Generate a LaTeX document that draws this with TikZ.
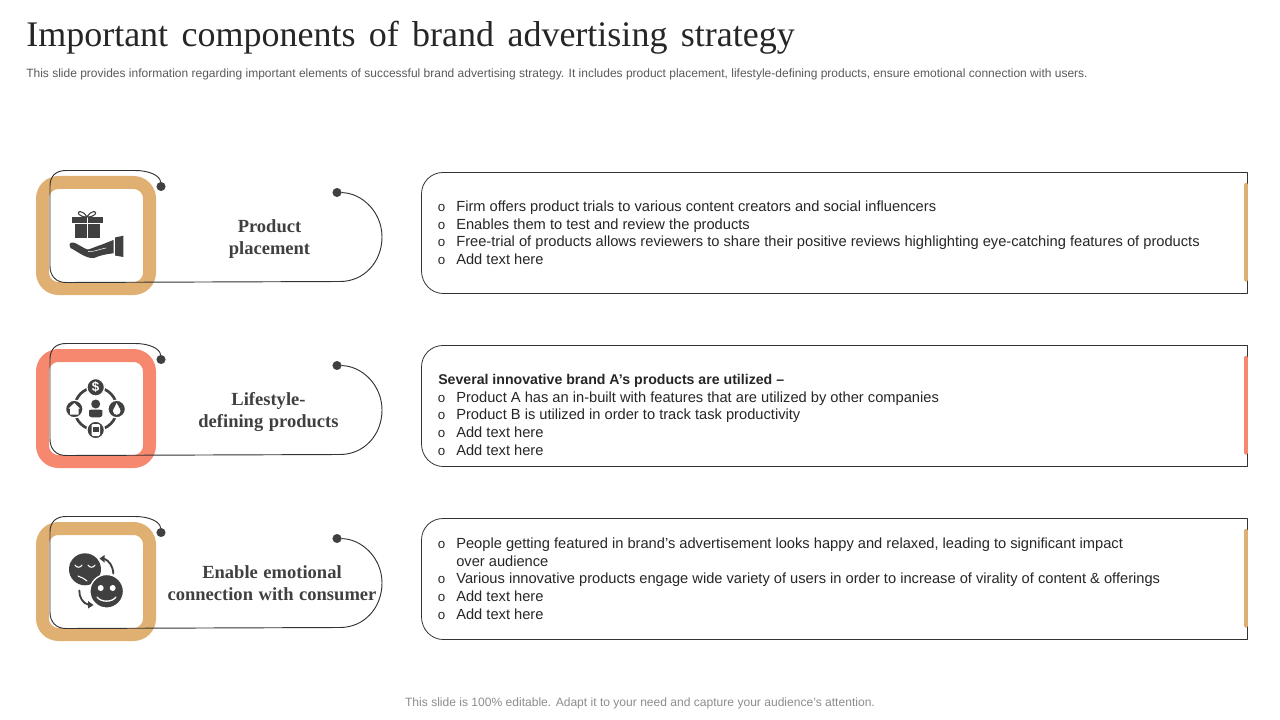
\documentclass[tikz,border=0pt]{standalone}
\usepackage{fontspec}
\setmainfont{Liberation Sans}
\newfontfamily\labelfont[WordSpace=1.2]{Liberation Serif}
\definecolor{tanfill}{HTML}{E0B073}
\definecolor{coralfill}{HTML}{F68870}
\definecolor{inkdark}{HTML}{404040}
\tikzset{
  framebox/.style={line width=9.75pt,rounded corners=12pt},
  dotend/.style={circle,fill=inkdark,inner sep=0pt,minimum size=6.8pt},
  rowlabel/.style={font=\labelfont\bfseries\fontsize{13.9}{16.5}\selectfont,text=inkdark,align=center,inner sep=0pt},
  textline/.style={anchor=base west,inner sep=0pt,text=black!85,font=\fontsize{11}{13}\selectfont},
  icon/.style={fill=inkdark,draw=none}
}
\newcommand{\rowlines}[2]{%
  \foreach \n/\yy/\tt in {#2}{
    \node[textline] (#1\n) at (437.5,\yy) {\makebox[13.9pt][l]{\fontsize{10}{12}\selectfont o}\tt};
  }}
\begin{document}
\begin{tikzpicture}[x=0.75pt,y=-0.75pt,line join=round,line cap=round]
\useasboundingbox (0,0) rectangle (1280,720);
% heading
\node[anchor=base west,inner sep=0pt,text=black!85,font=\labelfont\fontsize{27}{30}\selectfont] (title) at (26,47) {\spaceskip=10pt Important components of brand advertising strategy};
\node[anchor=base west,inner sep=0pt,text=black!65,font=\fontsize{9}{10}\selectfont] (subtitle) at (26,77.5) {This slide provides information regarding important elements of successful brand advertising strategy. It includes product placement, lifestyle-defining products, ensure emotional connection with users.};
\node[inner sep=0pt,text=black!45,font=\fontsize{9.05}{10}\selectfont] (footer) at (640,703) {This slide is 100\% editable. Adapt it to your need and capture your audience’s attention.};
% rows
\foreach \r/\dy/\col in {a/0/tanfill,b/173/coralfill,c/346/tanfill}{
\begin{scope}[shift={(0,\dy)}]
\draw[framebox,draw=\col,fill=white] (42.5,182.5) rectangle (149.5,288.5);
\node[dotend] (in\r) at (161,186.5) {};
\node[dotend] (out\r) at (337,192.5) {};
\draw[black!80,line width=0.7pt] (in\r) .. controls (160,176) and (150,170.5) .. (135,170.5) -- (66,170.5)
  .. controls (56,170.5) and (50,176) .. (50,186) -- (50,266)
  .. controls (50,276) and (56,282.5) .. (66,282.5) -- (340,281.5)
  .. controls (364,281.5) and (382,262) .. (382,237)
  .. controls (382,212) and (362,193) .. (out\r);
\draw[black!80,line width=0.6pt] (1247.5,172.5) -- (1247.5,293.5) -- (443,293.5)
  .. controls (431,293.5) and (421.5,283) .. (421.5,271) -- (421.5,194)
  .. controls (421.5,182) and (431,172.5) .. (443,172.5) -- cycle;
\draw[\col,line width=3.2pt] (1246,185) -- (1246,279.5);
\end{scope}
}
\node[rowlabel] (labela) at (269.5,239) {Product\\placement};
\node[rowlabel] (labelb) at (268.5,412) {Lifestyle-\\defining products};
\node[rowlabel] (labelc) at (272,583) {Enable emotional\\connection with consumer};
% box texts
\rowlines{ta}{1/211.5/Firm offers product trials to various content creators and social influencers,
  2/229/Enables them to test and review the products,
  3/246.5/Free-trial of products allows reviewers to share their positive reviews highlighting eye-catching features of products,
  4/264/Add text here}
\node[textline,font=\bfseries\fontsize{10.6}{13}\selectfont] (headb) at (438,384) {Several innovative brand A’s products are utilized –};
\rowlines{tb}{1/402/Product A has an in-built with features that are utilized by other companies,
  2/419/Product B is utilized in order to track task productivity,
  3/437/Add text here,
  4/455/Add text here}
\rowlines{tc}{1/548/{People getting featured in brand’s advertisement looks happy and relaxed, leading to significant impact},
  3/583/Various innovative products engage wide variety of users in order to increase of virality of content \& offerings,
  4/601/Add text here,
  5/619/Add text here}
\node[textline] (tc2) at (456,566) {over audience};
% gift and hand
\fill[icon] (71.5,217.3) rectangle (102.5,222.7);
\fill[icon] (74.5,224) rectangle (99.5,238.5);
\draw[white,line width=0.4pt] (87,217.3) -- (87,238.5);
\draw[inkdark,line width=0.8pt] (87,217) .. controls (79,217) and (76,212) .. (80,211.5) .. controls (83,211.5) and (85,214) .. (87,217)
  .. controls (89,214) and (91,211.5) .. (94,211.5) .. controls (98,212) and (95,217) .. (87,217) -- cycle;
\fill[icon] (69.5,245) .. controls (70,242) and (73,242) .. (76,243.5) .. controls (81,246) and (85,249) .. (88,249.5)
  .. controls (92,248.5) and (97,246) .. (102,244.5) -- (113.5,240) -- (113.5,253.3)
  .. controls (106,254) and (100,255.5) .. (94,258) .. controls (86,259) and (77,251) .. (70.5,248) -- cycle;
\fill[icon] (115,237.5) -- (123.3,235.7) -- (123.3,257) -- (115,255.5) -- cycle;
\draw[white,line width=0.4pt] (88.5,251.5) .. controls (94,252) and (100,249) .. (106,248);
% round of four symbols
\draw[inkdark,line width=2pt] (95.7,408.7) circle (21.3);
\foreach \s/\sx/\sy in {top/95.7/387.3,left/74.3/409,right/116.7/409,low/95.7/430}{
  \draw[white,line width=1pt,fill=inkdark] (\sx,\sy) circle (8.8);
}
\node[text=white,inner sep=0pt,font=\bfseries\fontsize{10}{10}\selectfont] (dollar) at (95.7,387.3) {\$};
\fill[white] (74.3,403) -- (80,408.5) -- (78.5,408.5) -- (78.5,414.5) -- (70,414.5) -- (70,408.5) -- (68.6,408.5) -- cycle;
\fill[white] (116.7,403) .. controls (117.5,406) and (120.5,408.5) .. (120.5,411) .. controls (120.5,416) and (113,416) .. (113,411) .. controls (113,408.5) and (116,406) .. (116.7,403) -- cycle;
\fill[white,rounded corners=1pt] (91.5,424) rectangle (100,436);
\fill[icon] (93,427) rectangle (98.5,432);
\fill[icon] (95.7,404) circle (4.5);
\fill[icon,rounded corners=2pt] (89,417.3) -- (89,413) .. controls (89,410) and (92,409.5) .. (95.7,409.5) .. controls (99,409.5) and (102.3,410) .. (102.3,413) -- (102.3,417.3) -- cycle;
% two faces
\fill[icon] (85,569.3) circle (16);
\draw[white,line width=1pt,fill=inkdark] (106.7,591.3) circle (16.8);
\draw[white,line width=0.8pt] (75,565) .. controls (77,568) and (80,568) .. (82,565) (88,565) .. controls (90,568) and (93,568) .. (95,565) (78,576) .. controls (81,577) and (84,578.5) .. (87,581);
\fill[white] (100.7,588) circle (3) (112.7,588) circle (3);
\draw[white,line width=1pt] (97,597) .. controls (101,602.5) and (112,602.5) .. (116,597);
\draw[inkdark,line width=1.4pt] (113.3,573.5) .. controls (113,566) and (109,560.5) .. (104,558.7);
\fill[icon] (104.5,555) -- (104.5,562.5) -- (99.5,558.5) -- cycle;
\draw[inkdark,line width=1.4pt] (79.3,590.5) .. controls (79,597) and (83,603.5) .. (88.3,604.7);
\fill[icon] (88,601) -- (88,608.5) -- (93.5,605) -- cycle;
\end{tikzpicture}
\end{document}
